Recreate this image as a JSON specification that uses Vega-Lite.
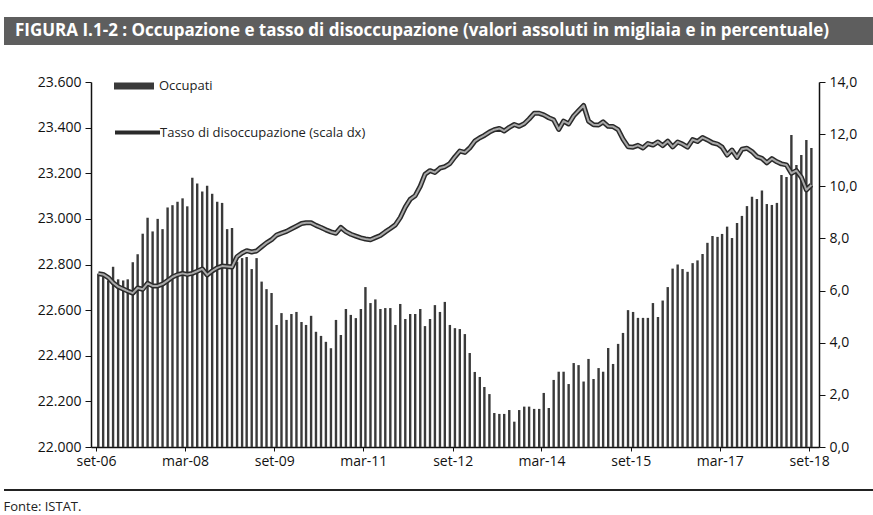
{
  "$schema": "https://vega.github.io/schema/vega-lite/v6.json",
  "padding": {"left": 3, "top": 17, "right": 0, "bottom": 0},
  "background": "white",
  "config": {"font": "Open Sans", "view": {"stroke": null}},
  "datasets": {
    "serie": [
      {"mese": "2006-09-15", "occupati": 22760, "tasso": 6.65},
      {"mese": "2006-10-15", "occupati": 22745, "tasso": 6.62},
      {"mese": "2006-11-15", "occupati": 22730, "tasso": 6.5},
      {"mese": "2006-12-15", "occupati": 22790, "tasso": 6.3},
      {"mese": "2007-01-15", "occupati": 22735, "tasso": 6.15},
      {"mese": "2007-02-15", "occupati": 22730, "tasso": 6.06},
      {"mese": "2007-03-15", "occupati": 22735, "tasso": 5.98},
      {"mese": "2007-04-15", "occupati": 22810, "tasso": 5.9},
      {"mese": "2007-05-15", "occupati": 22845, "tasso": 6.1},
      {"mese": "2007-06-15", "occupati": 22935, "tasso": 6.05},
      {"mese": "2007-07-15", "occupati": 23005, "tasso": 6.28},
      {"mese": "2007-08-15", "occupati": 22945, "tasso": 6.18},
      {"mese": "2007-09-15", "occupati": 23000, "tasso": 6.18},
      {"mese": "2007-10-15", "occupati": 22955, "tasso": 6.25},
      {"mese": "2007-11-15", "occupati": 23050, "tasso": 6.38},
      {"mese": "2007-12-15", "occupati": 23060, "tasso": 6.52},
      {"mese": "2008-01-15", "occupati": 23075, "tasso": 6.61},
      {"mese": "2008-02-15", "occupati": 23090, "tasso": 6.66},
      {"mese": "2008-03-15", "occupati": 23055, "tasso": 6.62},
      {"mese": "2008-04-15", "occupati": 23180, "tasso": 6.66},
      {"mese": "2008-05-15", "occupati": 23155, "tasso": 6.74},
      {"mese": "2008-06-15", "occupati": 23120, "tasso": 6.83},
      {"mese": "2008-07-15", "occupati": 23145, "tasso": 6.6},
      {"mese": "2008-08-15", "occupati": 23110, "tasso": 6.75},
      {"mese": "2008-09-15", "occupati": 23075, "tasso": 6.87},
      {"mese": "2008-10-15", "occupati": 23070, "tasso": 6.94},
      {"mese": "2008-11-15", "occupati": 22955, "tasso": 6.92},
      {"mese": "2008-12-15", "occupati": 22960, "tasso": 6.9},
      {"mese": "2009-01-15", "occupati": 22812, "tasso": 7.3},
      {"mese": "2009-02-15", "occupati": 22828, "tasso": 7.44},
      {"mese": "2009-03-15", "occupati": 22833, "tasso": 7.53},
      {"mese": "2009-04-15", "occupati": 22780, "tasso": 7.48},
      {"mese": "2009-05-15", "occupati": 22828, "tasso": 7.52},
      {"mese": "2009-06-15", "occupati": 22725, "tasso": 7.68},
      {"mese": "2009-07-15", "occupati": 22692, "tasso": 7.83},
      {"mese": "2009-08-15", "occupati": 22675, "tasso": 7.95},
      {"mese": "2009-09-15", "occupati": 22535, "tasso": 8.13},
      {"mese": "2009-10-15", "occupati": 22587, "tasso": 8.2},
      {"mese": "2009-11-15", "occupati": 22557, "tasso": 8.27},
      {"mese": "2009-12-15", "occupati": 22583, "tasso": 8.37},
      {"mese": "2010-01-15", "occupati": 22592, "tasso": 8.47},
      {"mese": "2010-02-15", "occupati": 22548, "tasso": 8.57},
      {"mese": "2010-03-15", "occupati": 22535, "tasso": 8.6},
      {"mese": "2010-04-15", "occupati": 22575, "tasso": 8.6},
      {"mese": "2010-05-15", "occupati": 22505, "tasso": 8.5},
      {"mese": "2010-06-15", "occupati": 22487, "tasso": 8.42},
      {"mese": "2010-07-15", "occupati": 22461, "tasso": 8.33},
      {"mese": "2010-08-15", "occupati": 22433, "tasso": 8.25},
      {"mese": "2010-09-15", "occupati": 22557, "tasso": 8.2},
      {"mese": "2010-10-15", "occupati": 22491, "tasso": 8.42},
      {"mese": "2010-11-15", "occupati": 22605, "tasso": 8.26},
      {"mese": "2010-12-15", "occupati": 22579, "tasso": 8.16},
      {"mese": "2011-01-15", "occupati": 22565, "tasso": 8.09},
      {"mese": "2011-02-15", "occupati": 22605, "tasso": 8.02},
      {"mese": "2011-03-15", "occupati": 22701, "tasso": 7.98},
      {"mese": "2011-04-15", "occupati": 22631, "tasso": 7.95},
      {"mese": "2011-05-15", "occupati": 22647, "tasso": 8.03},
      {"mese": "2011-06-15", "occupati": 22605, "tasso": 8.11},
      {"mese": "2011-07-15", "occupati": 22609, "tasso": 8.25},
      {"mese": "2011-08-15", "occupati": 22609, "tasso": 8.38},
      {"mese": "2011-09-15", "occupati": 22535, "tasso": 8.52},
      {"mese": "2011-10-15", "occupati": 22627, "tasso": 8.8},
      {"mese": "2011-11-15", "occupati": 22561, "tasso": 9.2},
      {"mese": "2011-12-15", "occupati": 22583, "tasso": 9.5},
      {"mese": "2012-01-15", "occupati": 22583, "tasso": 9.64},
      {"mese": "2012-02-15", "occupati": 22605, "tasso": 10.0},
      {"mese": "2012-03-15", "occupati": 22530, "tasso": 10.46},
      {"mese": "2012-04-15", "occupati": 22561, "tasso": 10.6},
      {"mese": "2012-05-15", "occupati": 22622, "tasso": 10.53},
      {"mese": "2012-06-15", "occupati": 22592, "tasso": 10.7},
      {"mese": "2012-07-15", "occupati": 22636, "tasso": 10.75},
      {"mese": "2012-08-15", "occupati": 22535, "tasso": 10.87},
      {"mese": "2012-09-15", "occupati": 22521, "tasso": 11.13},
      {"mese": "2012-10-15", "occupati": 22517, "tasso": 11.35},
      {"mese": "2012-11-15", "occupati": 22495, "tasso": 11.3},
      {"mese": "2012-12-15", "occupati": 22412, "tasso": 11.47},
      {"mese": "2013-01-15", "occupati": 22329, "tasso": 11.73},
      {"mese": "2013-02-15", "occupati": 22307, "tasso": 11.86},
      {"mese": "2013-03-15", "occupati": 22263, "tasso": 11.95},
      {"mese": "2013-04-15", "occupati": 22232, "tasso": 12.08},
      {"mese": "2013-05-15", "occupati": 22149, "tasso": 12.17},
      {"mese": "2013-06-15", "occupati": 22145, "tasso": 12.22},
      {"mese": "2013-07-15", "occupati": 22145, "tasso": 12.12},
      {"mese": "2013-08-15", "occupati": 22162, "tasso": 12.26},
      {"mese": "2013-09-15", "occupati": 22111, "tasso": 12.37},
      {"mese": "2013-10-15", "occupati": 22162, "tasso": 12.3},
      {"mese": "2013-11-15", "occupati": 22177, "tasso": 12.4},
      {"mese": "2013-12-15", "occupati": 22177, "tasso": 12.58},
      {"mese": "2014-01-15", "occupati": 22167, "tasso": 12.8},
      {"mese": "2014-02-15", "occupati": 22167, "tasso": 12.8},
      {"mese": "2014-03-15", "occupati": 22237, "tasso": 12.74},
      {"mese": "2014-04-15", "occupati": 22171, "tasso": 12.63},
      {"mese": "2014-05-15", "occupati": 22294, "tasso": 12.55},
      {"mese": "2014-06-15", "occupati": 22330, "tasso": 12.18},
      {"mese": "2014-07-15", "occupati": 22330, "tasso": 12.5},
      {"mese": "2014-08-15", "occupati": 22276, "tasso": 12.39},
      {"mese": "2014-09-15", "occupati": 22368, "tasso": 12.7},
      {"mese": "2014-10-15", "occupati": 22359, "tasso": 12.9},
      {"mese": "2014-11-15", "occupati": 22287, "tasso": 13.1},
      {"mese": "2014-12-15", "occupati": 22386, "tasso": 12.5},
      {"mese": "2015-01-15", "occupati": 22298, "tasso": 12.36},
      {"mese": "2015-02-15", "occupati": 22346, "tasso": 12.35},
      {"mese": "2015-03-15", "occupati": 22330, "tasso": 12.47},
      {"mese": "2015-04-15", "occupati": 22434, "tasso": 12.3},
      {"mese": "2015-05-15", "occupati": 22364, "tasso": 12.29},
      {"mese": "2015-06-15", "occupati": 22452, "tasso": 12.17},
      {"mese": "2015-07-15", "occupati": 22500, "tasso": 11.81},
      {"mese": "2015-08-15", "occupati": 22600, "tasso": 11.52},
      {"mese": "2015-09-15", "occupati": 22592, "tasso": 11.5},
      {"mese": "2015-10-15", "occupati": 22566, "tasso": 11.57},
      {"mese": "2015-11-15", "occupati": 22566, "tasso": 11.47},
      {"mese": "2015-12-15", "occupati": 22566, "tasso": 11.64},
      {"mese": "2016-01-15", "occupati": 22631, "tasso": 11.58},
      {"mese": "2016-02-15", "occupati": 22570, "tasso": 11.7},
      {"mese": "2016-03-15", "occupati": 22642, "tasso": 11.56},
      {"mese": "2016-04-15", "occupati": 22701, "tasso": 11.73},
      {"mese": "2016-05-15", "occupati": 22782, "tasso": 11.51},
      {"mese": "2016-06-15", "occupati": 22800, "tasso": 11.7},
      {"mese": "2016-07-15", "occupati": 22780, "tasso": 11.62},
      {"mese": "2016-08-15", "occupati": 22768, "tasso": 11.5},
      {"mese": "2016-09-15", "occupati": 22806, "tasso": 11.79},
      {"mese": "2016-10-15", "occupati": 22818, "tasso": 11.72},
      {"mese": "2016-11-15", "occupati": 22846, "tasso": 11.87},
      {"mese": "2016-12-15", "occupati": 22895, "tasso": 11.78},
      {"mese": "2017-01-15", "occupati": 22925, "tasso": 11.67},
      {"mese": "2017-02-15", "occupati": 22921, "tasso": 11.62},
      {"mese": "2017-03-15", "occupati": 22934, "tasso": 11.5},
      {"mese": "2017-04-15", "occupati": 22966, "tasso": 11.2},
      {"mese": "2017-05-15", "occupati": 22916, "tasso": 11.39},
      {"mese": "2017-06-15", "occupati": 22982, "tasso": 11.11},
      {"mese": "2017-07-15", "occupati": 23013, "tasso": 11.42},
      {"mese": "2017-08-15", "occupati": 23056, "tasso": 11.46},
      {"mese": "2017-09-15", "occupati": 23097, "tasso": 11.33},
      {"mese": "2017-10-15", "occupati": 23087, "tasso": 11.14},
      {"mese": "2017-11-15", "occupati": 23124, "tasso": 11.07},
      {"mese": "2017-12-15", "occupati": 23065, "tasso": 10.9},
      {"mese": "2018-01-15", "occupati": 23061, "tasso": 11.06},
      {"mese": "2018-02-15", "occupati": 23070, "tasso": 10.94},
      {"mese": "2018-03-15", "occupati": 23192, "tasso": 10.86},
      {"mese": "2018-04-15", "occupati": 23184, "tasso": 10.82},
      {"mese": "2018-05-15", "occupati": 23368, "tasso": 10.5},
      {"mese": "2018-06-15", "occupati": 23236, "tasso": 10.6},
      {"mese": "2018-07-15", "occupati": 23280, "tasso": 10.35},
      {"mese": "2018-08-15", "occupati": 23346, "tasso": 9.86},
      {"mese": "2018-09-15", "occupati": 23311, "tasso": 10.05}
    ]
  },
  "title": {"text": "Fonte: ISTAT.", "orient": "bottom", "anchor": "start", "fontSize": 13, "fontWeight": "normal", "color": "#222", "offset": 10, "font": "Open Sans"},
  "spacing": 21,
  "resolve": {"scale": {"fill": "independent", "stroke": "independent"}, "legend": {"fill": "independent", "stroke": "independent"}},
  "vconcat": [
    {
      "width": 870,
      "height": 28,
      "view": {"fill": "#5e5e5e", "stroke": null},
      "data": {"values": [{"titolo": "FIGURA I.1-2 : Occupazione e tasso di disoccupazione (valori assoluti in migliaia e in percentuale)"}]},
      "mark": {"type": "text", "color": "white", "fontWeight": "bold", "fontSize": 17, "align": "center", "baseline": "middle", "dx": -17, "font": "Open Sans"},
      "encoding": {"text": {"field": "titolo"}}
    },
    {
      "spacing": 0,
      "resolve": {"scale": {"fill": "independent", "stroke": "independent"}, "legend": {"fill": "independent", "stroke": "independent"}},
      "hconcat": [
        {
          "width": 1,
          "height": 1,
          "data": {"values": [{"vuoto": 0}]},
          "mark": {"type": "rule", "opacity": 0},
          "encoding": {}
        },
        {
          "width": 728,
          "height": 365,
          "data": {"name": "serie"},
          "layer": [
            {
              "mark": {"type": "bar", "width": 2.4},
              "encoding": {
                "x": {
                  "field": "mese",
                  "type": "temporal",
                  "scale": {"type": "utc", "domain": [{"year": 2006, "month": 9, "date": 1, "utc": true}, {"year": 2018, "month": 10, "date": 1, "utc": true}]},
                  "axis": {
                    "title": null,
                    "grid": false,
                    "values": [
                      {"year": 2006, "month": 9, "date": 1, "utc": true},
                      {"year": 2008, "month": 3, "date": 1, "utc": true},
                      {"year": 2009, "month": 9, "date": 1, "utc": true},
                      {"year": 2011, "month": 3, "date": 1, "utc": true},
                      {"year": 2012, "month": 9, "date": 1, "utc": true},
                      {"year": 2014, "month": 3, "date": 1, "utc": true},
                      {"year": 2015, "month": 9, "date": 1, "utc": true},
                      {"year": 2017, "month": 3, "date": 1, "utc": true},
                      {"year": 2018, "month": 9, "date": 1, "utc": true}
                    ],
                    "labelExpr": "['gen','feb','mar','apr','mag','giu','lug','ago','set','ott','nov','dic'][utcmonth(datum.value)] + '-' + utcFormat(datum.value, '%y')",
                    "labelFlush": false,
                    "labelOverlap": false,
                    "labelAngle": 0,
                    "labelFontSize": 14,
                    "labelColor": "#111",
                    "labelPadding": 3,
                    "tickSize": 4,
                    "tickColor": "#111",
                    "domainColor": "#111",
                    "domainWidth": 1.5
                  }
                },
                "y": {
                  "field": "occupati",
                  "type": "quantitative",
                  "scale": {"domain": [22000, 23600]},
                  "axis": {
                    "orient": "left",
                    "title": null,
                    "grid": false,
                    "values": [22000, 22200, 22400, 22600, 22800, 23000, 23200, 23400, 23600],
                    "labelExpr": "replace(format(datum.value, ',.0f'), ',', '.')",
                    "labelFontSize": 14,
                    "labelColor": "#111",
                    "labelPadding": 4,
                    "tickSize": 6,
                    "tickColor": "#111",
                    "domainColor": "#111",
                    "domainWidth": 1.5,
                    "minExtent": 86
                  }
                },
                "y2": {"datum": 22000},
                "fill": {
                  "datum": "Occupati",
                  "scale": {"range": ["#3a3a3a"]},
                  "legend": {
                    "orient": "none",
                    "legendX": 23,
                    "legendY": -16,
                    "title": null,
                    "symbolType": "M-1,-0.18H1V0.18H-1Z",
                    "symbolSize": 1600,
                    "symbolStrokeWidth": 0,
                    "labelFontSize": 13,
                    "labelOffset": 5,
                    "labelLimit": 400,
                    "labelColor": "#222"
                  }
                }
              }
            },
            {
              "layer": [
                {
                  "mark": {"type": "line", "strokeWidth": 5, "strokeJoin": "round"},
                  "encoding": {
                    "x": {"field": "mese", "type": "temporal"},
                    "y": {
                      "field": "tasso",
                      "type": "quantitative",
                      "scale": {"domain": [0, 14]},
                      "axis": {
                        "orient": "right",
                        "title": null,
                        "grid": false,
                        "values": [0, 2, 4, 6, 8, 10, 12, 14],
                        "labelExpr": "replace(format(datum.value, '.1f'), '.', ',')",
                        "labelFontSize": 14,
                        "labelColor": "#111",
                        "labelPadding": 4,
                        "tickSize": 6,
                        "tickColor": "#111",
                        "domainColor": "#111",
                        "domainWidth": 1.5
                      }
                    },
                    "stroke": {
                      "datum": "Tasso di disoccupazione (scala dx)",
                      "scale": {"range": ["#2a2a2a"]},
                      "legend": {
                        "orient": "none",
                        "legendX": 22,
                        "legendY": 26,
                        "title": null,
                        "symbolType": "stroke",
                        "symbolSize": 2025,
                        "symbolStrokeWidth": 4,
                        "labelFontSize": 13,
                        "labelOffset": -2,
                        "labelLimit": 400,
                        "labelColor": "#222"
                      }
                    }
                  }
                },
                {
                  "mark": {"type": "line", "strokeWidth": 2, "color": "#a8a8a8", "strokeJoin": "round"},
                  "encoding": {
                    "x": {"field": "mese", "type": "temporal"},
                    "y": {"field": "tasso", "type": "quantitative"}
                  }
                }
              ]
            }
          ],
          "resolve": {"scale": {"y": "independent"}}
        }
      ]
    },
    {
      "width": 870,
      "height": 2,
      "view": {"fill": "#222", "stroke": null},
      "data": {"values": [{"linea": 1}]},
      "mark": {"type": "rect", "color": "#222"},
      "encoding": {}
    }
  ]
}
